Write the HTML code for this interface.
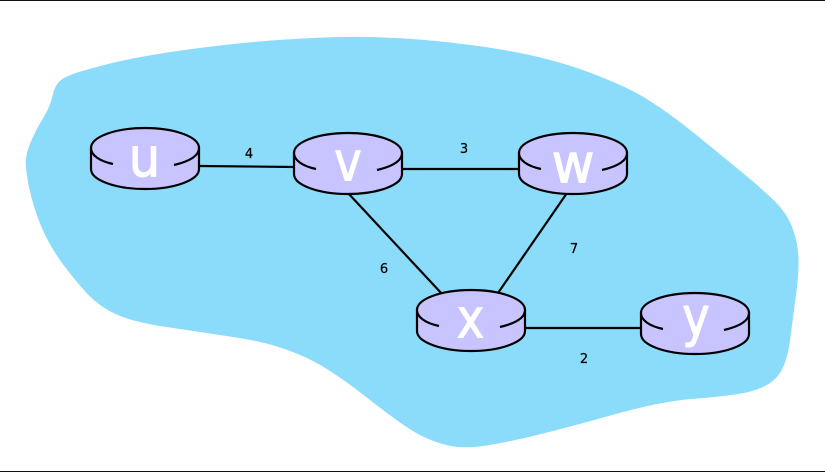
<!DOCTYPE html>
<html>
<head>
<meta charset="utf-8">
<style>
html,body{margin:0;padding:0;background:#fff;width:825px;height:472px;overflow:hidden}
svg{display:block}
.n{font-family:"DejaVu Sans",sans-serif;font-size:13px;fill:#000;stroke:#000;stroke-width:.2;text-anchor:middle}
.l{font-family:"DejaVu Sans",sans-serif;font-size:54px;fill:#fff;stroke:#fff;stroke-width:1.1;text-anchor:middle}
</style>
</head>
<body>
<svg width="825" height="472" viewBox="0 0 825 472" xmlns="http://www.w3.org/2000/svg">
<defs>
<g id="r">
<path d="M-54 0V21C-54 32 -30 41 0 41S54 32 54 21V0Z" fill="#c8c4ff" stroke="#000" stroke-width="2.2"/>
<ellipse cx="0" cy="0" rx="54" ry="20" fill="#c8c4ff" stroke="none"/>
<path d="M-32 16C-46 13 -54 7 -54 0C-54 -11 -30 -20 0 -20S54 -11 54 0C54 7 46 13 29 17" fill="none" stroke="#000" stroke-width="2.2"/>
</g>
</defs>
<rect x="0" y="0" width="825" height="1" fill="#111"/>
<rect x="0" y="471" width="825" height="1" fill="#111"/>
<path d="M233.5 44Q280 39 325 37.5Q370 35.5 425 40Q480 45 520 53Q560 61 593.5 74Q627 87 643.5 97Q660 107 676.5 119.5Q693 132 710 146Q727 160 743.5 173.5Q760 187 773.5 200Q787 213 792.5 228Q798 243 798.5 258Q799 273 796 295Q793 317 790.5 337Q788 357 782.5 368.5Q777 380 765 386Q753 392 735 394.5Q717 397 697 398.5Q677 400 657 404Q637 408 608.5 416Q580 424 555 430.5Q530 437 508.5 441.5Q487 446 473.5 447Q460 448 448.5 445.5Q437 443 425 437.5Q413 432 396.5 420Q380 408 363.5 395Q347 382 330 371Q313 360 296.5 353.5Q280 347 266.5 343.5Q253 340 226.5 336Q200 332 166.5 327Q133 322 116.5 314.5Q100 307 88.5 295Q77 283 63.5 265Q50 247 41.5 227Q33 207 29 187Q25 167 26 158.5Q27 150 32 139Q37 128 43.5 117.5Q50 107 52.5 96Q55 83 64 78Q73 73 95 67.5Q117 61 152 55Q187 49 233.5 44Z" fill="#8bdbfa"/>
<g stroke="#000" stroke-width="2.2" fill="none">
<line x1="199" y1="166" x2="295" y2="167"/>
<line x1="402" y1="169" x2="519" y2="169"/>
<line x1="348" y1="193" x2="443" y2="295"/>
<line x1="567" y1="193" x2="498" y2="293"/>
<line x1="525" y1="328" x2="641" y2="328"/>
</g>
<use href="#r" x="145" y="148"/>
<use href="#r" x="348" y="153"/>
<use href="#r" x="573" y="153"/>
<use href="#r" x="471" y="310"/>
<use href="#r" x="695" y="313"/>
<text class="l" transform="translate(144.5 176) scale(.92 1)">u</text>
<text class="l" transform="translate(348 180.3) scale(.86 1)">v</text>
<text class="l" transform="translate(573 182.5) scale(.97 1)">w</text>
<text class="l" transform="translate(470.5 337.3) scale(.86 1)">x</text>
<text class="l" transform="translate(696 335.5) scale(.86 1)">y</text>
<text class="n" x="249" y="158">4</text>
<text class="n" x="464" y="153">3</text>
<text class="n" x="384" y="273">6</text>
<text class="n" x="574" y="253">7</text>
<text class="n" x="584" y="363">2</text>
</svg>
</body>
</html>
